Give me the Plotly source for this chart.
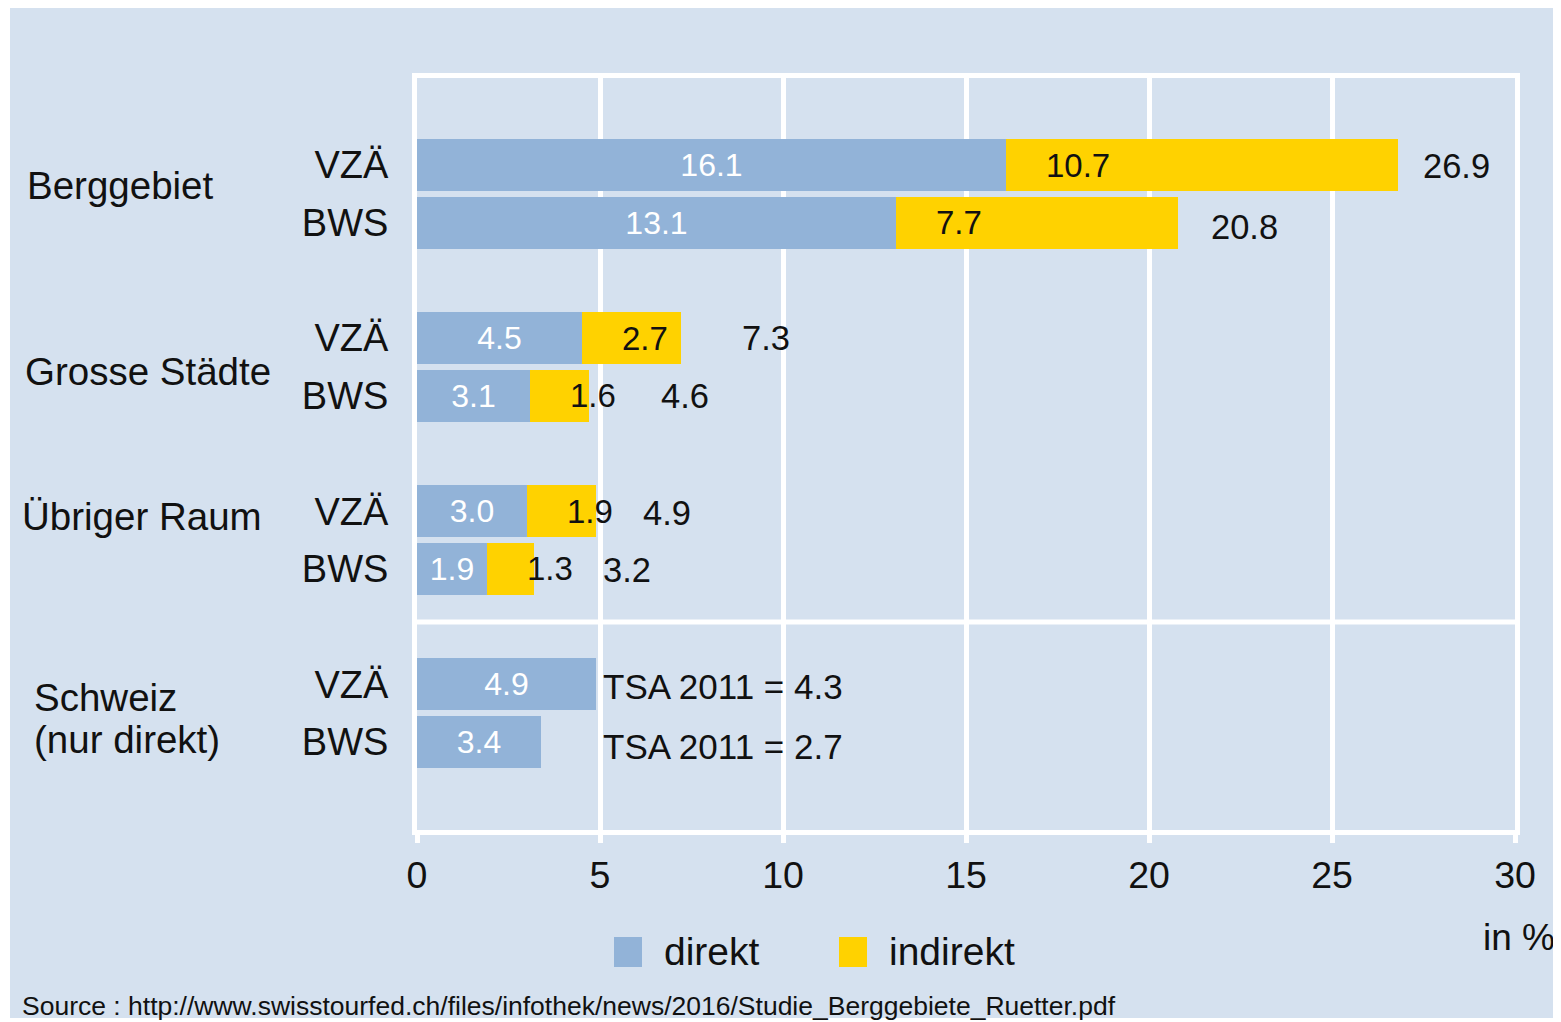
import plotly.graph_objects as go

# ---- data ----
groups = ["Berggebiet", "Grosse Städte", "Übriger Raum", "Schweiz"]
measures = ["VZÄ", "BWS"]
direkt = [16.1, 13.1, 4.5, 3.1, 3.0, 1.9, 4.9, 3.4]
indirekt = [10.7, 7.7, 2.7, 1.6, 1.9, 1.3, None, None]
totals = [26.9, 20.8, 7.3, 4.6, 4.9, 3.2]
tsa_labels = ["TSA 2011 = 4.3", "TSA 2011 = 2.7"]
x_ticks = [0, 5, 10, 15, 20, 25, 30]

# ---- layout helpers ----
row_pos = []
for gi in range(len(groups)):
    row_pos += [gi * 3, gi * 3 + 1]
tick_text = measures * len(groups)

BLUE = "#92b3d8"
YELLOW = "#ffd200"
BG = "#d5e1ef"
FONT = "Liberation Sans, Arial, sans-serif"
TXT = "#111111"

OFF = 8  # page body margin
W, H = 1561 - OFF, 1022 - OFF
L, T = 417 - OFF, 78 - OFF
R = W - (1515 - OFF)
B = H - (830 - OFF)
PW, PH = W - L - R, H - T - B


def px_x(x):
    return (x - OFF - L) / PW


def px_y(y):
    return (H - B - (y - OFF)) / PH


fig = go.Figure()
fig.add_trace(go.Bar(
    y=row_pos, x=direkt, orientation="h", width=0.9,
    marker=dict(color=BLUE, line=dict(width=0)),
    text=[f"{v:.1f}" for v in direkt], textposition="inside",
    insidetextanchor="middle", textangle=0, constraintext="none",
    textfont=dict(color="white", size=32, family=FONT),
    name="direkt", showlegend=False, hoverinfo="x",
))
fig.add_trace(go.Bar(
    y=row_pos, x=indirekt, orientation="h", width=0.9,
    marker=dict(color=YELLOW, line=dict(width=0)),
    textposition="none",
    name="indirekt", showlegend=False, hoverinfo="x",
))

annotations = []
# indirekt value labels (left part of yellow segment)
for i, v in enumerate(indirekt):
    if v is None:
        continue
    annotations.append(dict(x=direkt[i], y=row_pos[i], xref="x", yref="y",
                            text=f"{v:.1f}", showarrow=False, xanchor="left",
                            xshift=38, font=dict(size=33, color=TXT, family=FONT)))
# totals
total_shift = [19, 31, 56, 74, 45, 67]
total_yshift = [-1, -4, 0, 0, -2, -1]
for i, t in enumerate(totals):
    annotations.append(dict(x=t, y=row_pos[i], xref="x", yref="y",
                            text=f"{t:.1f}", showarrow=False, xanchor="left",
                            xshift=total_shift[i], yshift=total_yshift[i],
                            font=dict(size=34.5, color=TXT, family=FONT)))
# TSA labels
for k, lab in enumerate(tsa_labels):
    annotations.append(dict(x=5, y=row_pos[6 + k], xref="x", yref="y",
                            text=lab, showarrow=False, xanchor="left", xshift=1,
                            yshift=[-2, -4][k],
                            font=dict(size=35, color=TXT, family=FONT)))
# group labels
grp_lines = [["Berggebiet"], ["Grosse Städte"], ["Übriger Raum"], ["Schweiz", "(nur direkt)"]]
grp_x = [25, 23, 20, 32]
grp_dy = [[0.35], [0.58], [0.09], [0.22, 0.95]]
for gi, lines in enumerate(grp_lines):
    for li, line in enumerate(lines):
        annotations.append(dict(x=px_x(grp_x[gi]), y=gi * 3 + grp_dy[gi][li],
                                xref="paper", yref="y", text=line, showarrow=False,
                                xanchor="left", yanchor="middle",
                                font=dict(size=38.5, color=TXT, family=FONT)))
# axis unit
annotations.append(dict(x=px_x(1557), y=px_y(937), xref="paper", yref="paper",
                        text="in %", showarrow=False, xanchor="right", yanchor="middle",
                        font=dict(size=37, color=TXT, family=FONT)))
# legend (manual)
legend_items = [("direkt", BLUE, 614), ("indirekt", YELLOW, 839)]
shapes = [dict(type="rect", xref="paper", yref="paper", layer="below",
               x0=px_x(10), x1=px_x(1570), y0=px_y(1018), y1=px_y(0),
               fillcolor=BG, line=dict(width=0))]
for name, col, x0 in legend_items:
    shapes.append(dict(type="rect", xref="paper", yref="paper",
                       x0=px_x(x0), x1=px_x(x0 + 28), y0=px_y(967), y1=px_y(937),
                       fillcolor=col, line=dict(width=0)))
    annotations.append(dict(x=px_x(x0 + 48), y=px_y(952), xref="paper", yref="paper",
                            text=name, showarrow=False, xanchor="left", yanchor="middle",
                            font=dict(size=39, color=TXT, family=FONT)))
# separator between regions and Schweiz
shapes.append(dict(type="line", xref="x", yref="y", x0=0, x1=30, y0=7.92, y1=7.92,
                   line=dict(color="white", width=5)))
# source
annotations.append(dict(x=px_x(20), y=px_y(1006), xref="paper", yref="paper",
                        text="Source : http://www.swisstourfed.ch/files/infothek/news/2016/Studie_Berggebiete_Ruetter.pdf",
                        showarrow=False, xanchor="left", yanchor="middle",
                        font=dict(size=26.5, color=TXT, family=FONT)))

fig.update_layout(
    width=W, height=H,
    margin=dict(l=L, r=R, t=T, b=B, pad=0),
    paper_bgcolor="white", plot_bgcolor="rgba(0,0,0,0)",
    barmode="stack", bargap=0,
    showlegend=False,
    font=dict(family=FONT, color=TXT),
    annotations=annotations, shapes=shapes,
    xaxis=dict(range=[0, 30], tickvals=x_ticks, ticktext=[str(v) for v in x_ticks],
               showgrid=True, gridcolor="white", gridwidth=5,
               showline=True, linecolor="white", linewidth=5, mirror=True,
               ticks="outside", ticklen=8, tickwidth=5, tickcolor="white",
               zeroline=False, tickfont=dict(size=37.5, color=TXT, family=FONT),
               ticklabelstandoff=0, fixedrange=True),
    yaxis=dict(range=[11.525, -1.508], tickvals=row_pos, ticktext=tick_text,
               showgrid=False, showline=True, linecolor="white", linewidth=5,
               mirror=True, ticks="", zeroline=False,
               tickfont=dict(size=38, color=TXT, family=FONT),
               ticklabelstandoff=16, fixedrange=True),
)

fig.write_html("out.html")
